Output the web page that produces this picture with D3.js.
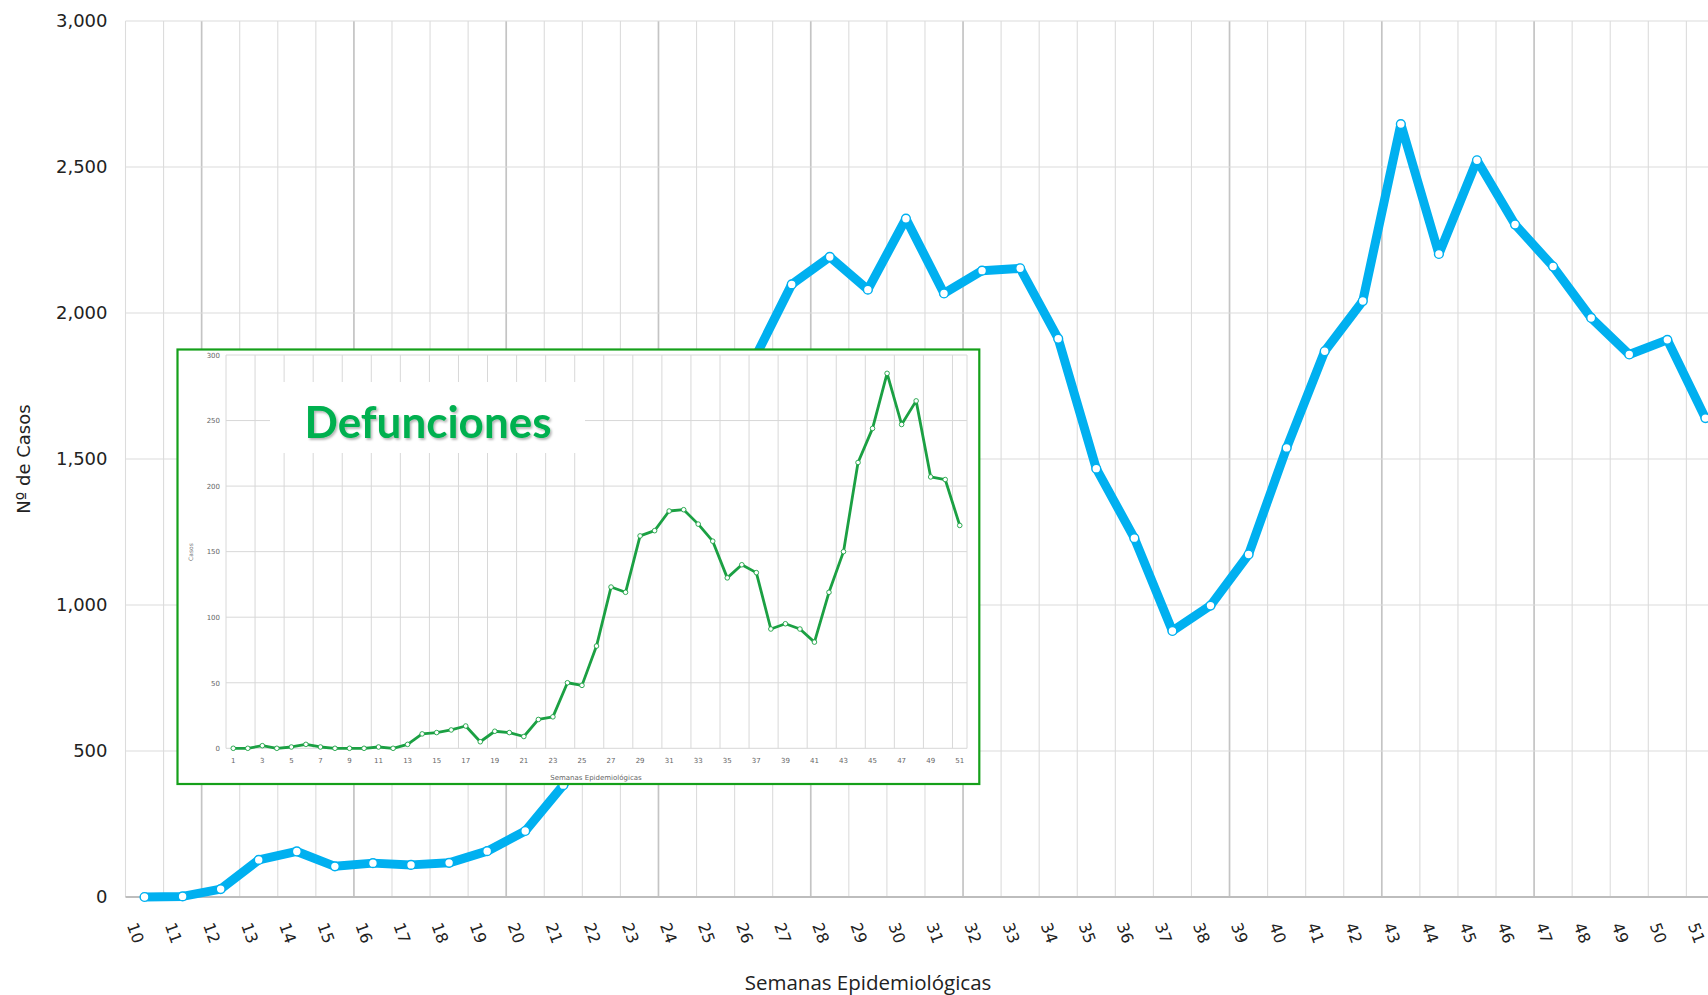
<!DOCTYPE html>
<html>
<head>
<meta charset="utf-8">
<script src="https://cdn.jsdelivr.net/npm/d3@7"></script>
<style>
  body { margin: 0; background: #ffffff; }
  svg { display: block; }
</style>
</head>
<body>
<svg id="chart" width="1708" height="995"></svg>
<script>
// ---------------- DATA ----------------
const mainWeeks = [10,11,12,13,14,15,16,17,18,19,20,21,22,23,24,25,26,27,28,29,30,
                   31,32,33,34,35,36,37,38,39,40,41,42,43,44,45,46,47,48,49,50,51];
const mainCases = [0,2,27,127,156,105,116,110,117,157,226,383,560,800,1120,1450,1838,
                   2098,2192,2080,2323,2067,2145,2153,1912,1467,1229,911,998,1173,1538,
                   1869,2041,2647,2202,2523,2303,2159,1983,1858,1908,1640];
const mainYTicks = [0,500,1000,1500,2000,2500,3000];

const insetWeeks = [1,2,3,4,5,6,7,8,9,10,11,12,13,14,15,16,17,18,19,20,21,22,23,24,25,
                    26,27,28,29,30,31,32,33,34,35,36,37,38,39,40,41,42,43,44,45,46,47,48,49,50,51];
const insetDeaths = [0,0,2,0,1,3,1,0,0,0,1,0,3,11,12,14,17,5,13,12,9,22,24,50,48,
                     78,123,119,162,166,181,182,171,158,130,140,134,91,95,91,81,119,150,
                     218,244,286,247,265,207,205,170];
const insetYTicks = [0,50,100,150,200,250,300];
const insetXTicks = [1,3,5,7,9,11,13,15,17,19,21,23,25,27,29,31,33,35,37,39,41,43,45,47,49,51];

const yTitle = "Nº de Casos";
const xTitle = "Semanas Epidemiológicas";
const insetTitle = "Defunciones";
const insetYTitle = "Casos";

(function draw() {
// ---------------- STYLE ----------------
const W = 1708;
const blue = "#00b0f0";
const green = "#1ba043";
const gridCol = "#dcdcdc";
const gridDark = "#c4c4c4";
const darkGridIdx = [2,6,10,14,18,22,29,33,37];

const svg = d3.select("#chart");

const defs = svg.append("defs");
const f = defs.append("filter").attr("id", "shadow")
  .attr("x", "-10%").attr("y", "-20%").attr("width", "120%").attr("height", "150%");
f.append("feDropShadow").attr("dx", 1.5).attr("dy", 1.8).attr("stdDeviation", 1.3)
  .attr("flood-color", "#000").attr("flood-opacity", 0.3);

// ---------------- MAIN CHART ----------------
const mL = 125.5, mT = 21, mB = 897;
const x = d3.scaleBand().domain(mainWeeks).range([mL, mL + mainWeeks.length * 38.07]);
const y = d3.scaleLinear().domain([0, 3000]).range([mB, mT]);
const cx = d => x(d) + x.bandwidth() / 2;

const grid = svg.append("g");
grid.selectAll("line.v").data(mainWeeks).join("line")
  .attr("class", "v")
  .attr("x1", d => x(d)).attr("x2", d => x(d))
  .attr("y1", mT).attr("y2", mB)
  .attr("stroke", (d, i) => darkGridIdx.includes(i) ? gridDark : gridCol)
  .attr("stroke-width", (d, i) => darkGridIdx.includes(i) ? 1.7 : 1.1);
grid.selectAll("line.h").data(mainYTicks.filter(t => t > 0)).join("line")
  .attr("class", "h")
  .attr("x1", mL).attr("x2", W)
  .attr("y1", d => y(d)).attr("y2", d => y(d))
  .attr("stroke", gridCol).attr("stroke-width", 1.1);

// y axis labels
const yAxis = svg.append("g").attr("transform", `translate(${mL},0)`)
  .call(d3.axisLeft(y).tickValues(mainYTicks).tickFormat(d3.format(",")).tickSize(0).tickPadding(18));
yAxis.select(".domain").remove();
yAxis.selectAll("text").attr("font-family", "DejaVu Sans, sans-serif")
  .attr("font-size", 18).attr("fill", "#222");

// x axis
const xAxis = svg.append("g").attr("transform", `translate(0,${mB})`)
  .call(d3.axisBottom(x).tickSize(0));
xAxis.select(".domain").attr("stroke", "#bdbdbd").attr("stroke-width", 2.2)
  .attr("d", `M${mL},0H${W}`);
xAxis.selectAll("text")
  .attr("font-family", "DejaVu Sans, sans-serif").attr("font-size", 16).attr("fill", "#222")
  .attr("x", -9).attr("y", 36).attr("dy", "0.35em").attr("text-anchor", "middle")
  .attr("transform", "rotate(70,-9,36)");

// titles
svg.append("text").attr("transform", "translate(30,459) rotate(-90)")
  .attr("text-anchor", "middle").attr("font-family", "DejaVu Sans, sans-serif")
  .attr("font-size", 18).attr("fill", "#222").text(yTitle);
svg.append("text").attr("x", 868).attr("y", 990)
  .attr("text-anchor", "middle").attr("font-family", "Open Sans, sans-serif")
  .attr("font-size", 20.5).attr("fill", "#222").text(xTitle);

// main line
const mainData = mainWeeks.map((w, i) => ({ w, v: mainCases[i] }));
svg.append("path").datum(mainData)
  .attr("d", d3.line().x(d => cx(d.w)).y(d => y(d.v)))
  .attr("fill", "none").attr("stroke", blue).attr("stroke-width", 9)
  .attr("stroke-linejoin", "round").attr("stroke-linecap", "round");
svg.append("g").selectAll("circle").data(mainData).join("circle")
  .attr("cx", d => cx(d.w)).attr("cy", d => y(d.v)).attr("r", 4.4)
  .attr("fill", "#fff").attr("stroke", blue).attr("stroke-width", 1.4);

// ---------------- INSET ----------------
const ins = svg.append("g");
ins.append("rect").attr("x", 177.5).attr("y", 349.5).attr("width", 801.8).attr("height", 434.5)
  .attr("fill", "#fff").attr("stroke", "#15a01a").attr("stroke-width", 2.2);

const il = 226, ir = 967, it = 355, ib = 748.3;
const xi = d3.scaleBand().domain(insetWeeks).range([il, ir]);
const yi = d3.scaleLinear().domain([0, 300]).range([ib, it]);
const icx = d => xi(d) + xi.bandwidth() / 2;

ins.selectAll("line.ih").data(insetYTicks).join("line").attr("class", "ih")
  .attr("x1", il).attr("x2", ir).attr("y1", d => yi(d)).attr("y2", d => yi(d))
  .attr("stroke", "#d8d8d8").attr("stroke-width", 1);
ins.selectAll("line.iv").data(insetXTicks).join("line").attr("class", "iv")
  .attr("x1", d => xi(d)).attr("x2", d => xi(d)).attr("y1", it).attr("y2", ib)
  .attr("stroke", "#d8d8d8").attr("stroke-width", 1);
ins.append("line").attr("x1", ir).attr("x2", ir).attr("y1", it).attr("y2", ib)
  .attr("stroke", "#d8d8d8").attr("stroke-width", 1);

const iy = ins.append("g").attr("transform", `translate(${il},0)`)
  .call(d3.axisLeft(yi).tickValues(insetYTicks).tickSize(0).tickPadding(6));
iy.select(".domain").remove();
iy.selectAll("text").attr("font-family", "DejaVu Sans, sans-serif").attr("font-size", 7).attr("fill", "#666");

const ix = ins.append("g").attr("transform", `translate(0,${ib})`)
  .call(d3.axisBottom(xi).tickValues(insetXTicks).tickSize(0).tickPadding(10));
ix.select(".domain").remove();
ix.selectAll("text").attr("font-family", "DejaVu Sans, sans-serif").attr("font-size", 7).attr("fill", "#666");

ins.append("text").attr("transform", "translate(193,552) rotate(-90)")
  .attr("text-anchor", "middle").attr("font-family", "DejaVu Sans, sans-serif")
  .attr("font-size", 6).attr("fill", "#777").text(insetYTitle);
ins.append("text").attr("x", 596).attr("y", 779.5)
  .attr("text-anchor", "middle").attr("font-family", "DejaVu Sans, sans-serif")
  .attr("font-size", 7).attr("fill", "#666").text(xTitle);

const insetData = insetWeeks.map((w, i) => ({ w, v: insetDeaths[i] }));
ins.append("path").datum(insetData)
  .attr("d", d3.line().x(d => icx(d.w)).y(d => yi(d.v)))
  .attr("fill", "none").attr("stroke", green).attr("stroke-width", 2.8)
  .attr("stroke-linejoin", "round");
ins.append("g").selectAll("circle").data(insetData).join("circle")
  .attr("cx", d => icx(d.w)).attr("cy", d => yi(d.v)).attr("r", 2.3)
  .attr("fill", "#fff").attr("stroke", green).attr("stroke-width", 0.9);

// title box
ins.append("rect").attr("x", 270).attr("y", 382).attr("width", 315).attr("height", 71).attr("fill", "#fff");
ins.append("text").attr("x", 428).attr("y", 438)
  .attr("text-anchor", "middle").attr("font-family", "Lato, sans-serif").attr("font-weight", 700)
  .attr("font-size", 44).attr("fill", "#00b050").attr("filter", "url(#shadow)").text(insetTitle);
})();
</script>
</body>
</html>
